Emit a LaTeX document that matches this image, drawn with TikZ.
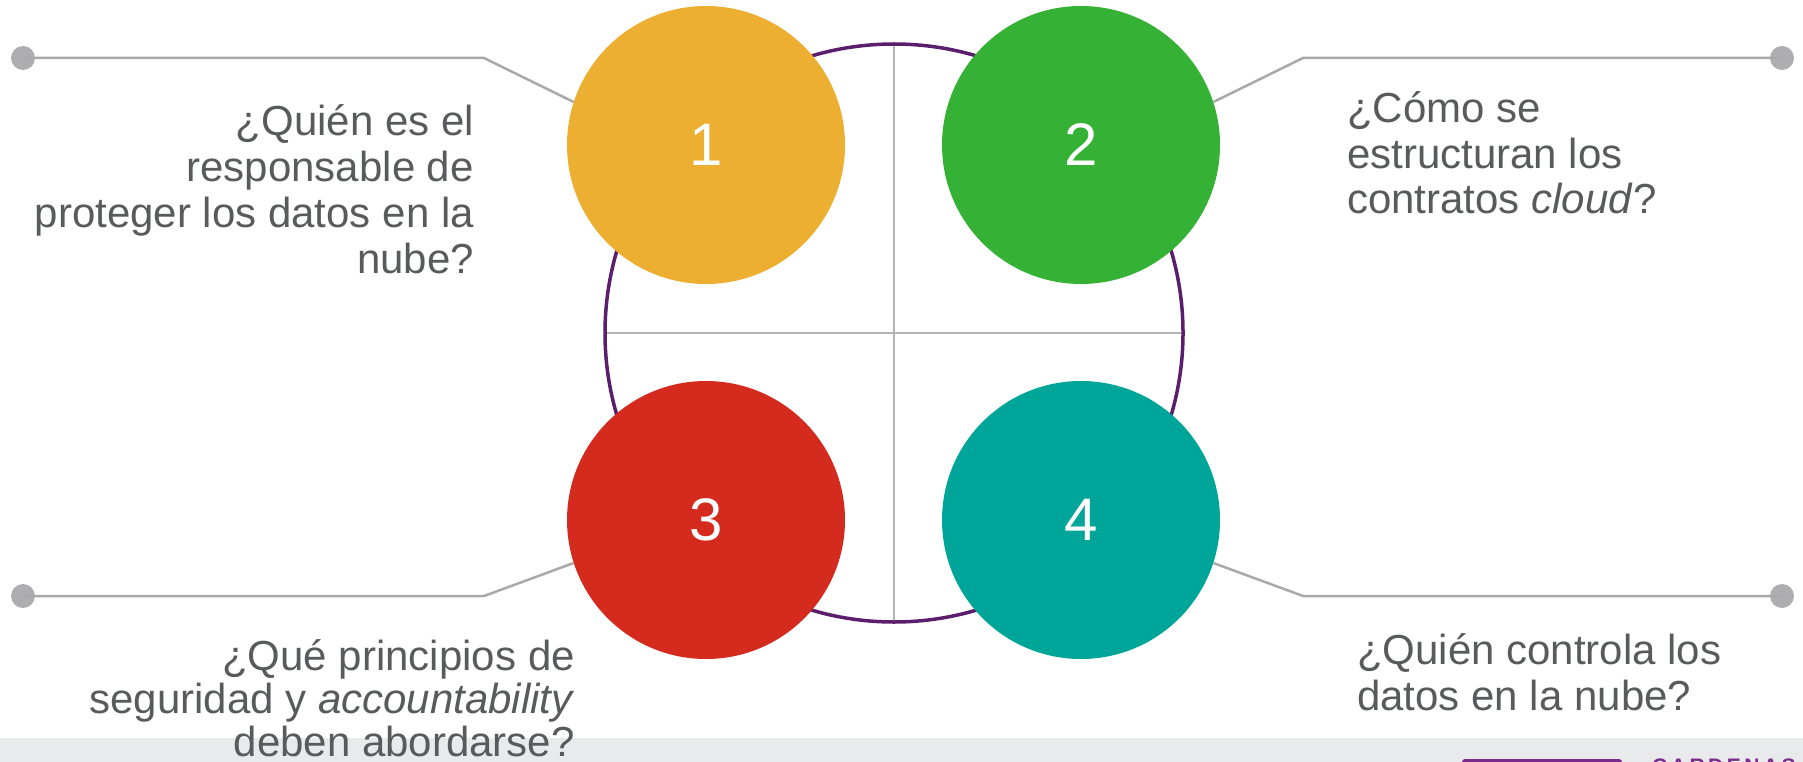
\documentclass[tikz,border=0pt]{standalone}
\usepackage{fontspec}
\setmainfont{Liberation Sans}
\definecolor{txtgray}{HTML}{595A5C}
\definecolor{leadgray}{HTML}{A9A9AA}
\definecolor{dotgray}{HTML}{AEAEB0}
\definecolor{crossgray}{HTML}{B4B4B4}
\definecolor{ringpurple}{HTML}{5A1E6C}
\definecolor{cOne}{HTML}{EDAF32}
\definecolor{cTwo}{HTML}{35B236}
\definecolor{cThree}{HTML}{D52B1E}
\definecolor{cFour}{HTML}{00A599}
\definecolor{bandgray}{HTML}{E9EAEC}
\definecolor{brandpurple}{HTML}{7A2B8C}

\begin{document}
\begin{tikzpicture}[x=1pt,y=-1pt,
		bubble/.style={circle,minimum size=278pt,inner sep=0pt,text=white,font=\fontsize{60}{64}\selectfont},
		pin/.style={circle,fill=dotgray,minimum size=24pt,inner sep=0pt},
		leader/.style={draw=leadgray,line width=2.5pt},
		question/.style={text=txtgray,inner sep=0pt,font=\fontsize{42}{46}\selectfont}]
			\useasboundingbox (0,0) rectangle (1803,762);
			\clip (0,0) rectangle (1803,762);
			% footer
			\fill[bandgray] (0,738) rectangle (1803,762);
			\fill[brandpurple, rounded corners=3pt] (1462,759) rectangle (1622,775);
			\node[anchor=north west, inner sep=0pt, text=brandpurple, font=\bfseries\fontsize{21}{21}\selectfont] (brand) at (1652,759) {C\,A\,R\,D\,E\,N\,A\,S};
			% ring with cross
			\node[circle, minimum size=578pt, inner sep=0pt] (ring) at (894,333) {};
			\draw[crossgray, line width=1.5pt] (ring.north) -- (ring.south);
			\draw[crossgray, line width=1.5pt] (ring.west) -- (ring.east);
			\draw[ringpurple, line width=3.5pt] (ring.center) circle[radius=289pt];
			% the four bubbles
			\foreach \n/\x/\y/\col in {1/706/145/cOne, 2/1081/145/cTwo, 3/706/520/cThree, 4/1081/520/cFour} {
				\node[bubble, fill=\col] (c\n) at (\x,\y) {\n};
			}
			% leaders
			\node[pin] (p1) at (23,58) {};
			\node[pin] (p2) at (1782,58) {};
			\node[pin] (p3) at (23,596) {};
			\node[pin] (p4) at (1782,596) {};
			\coordinate (k1) at (484,58);
			\coordinate (k2) at (1303,58);
			\coordinate (k3) at (484,596);
			\coordinate (k4) at (1303,596);
			\draw[leader] (p1.center) -- (k1) -- (c1.162);
			\draw[leader] (p2.center) -- (k2) -- (c2.18);
			\draw[leader] (p3.center) -- (k3) -- (c3.198);
			\draw[leader] (p4.center) -- (k4) -- (c4.342);
			% questions (base = last line)
			\node[question, anchor=base east, align=right] (q1) at (474,273) {¿Quién es el\\responsable de\\proteger los datos en la\\nube?};
			\node[question, anchor=base west, align=left] (q2) at (1347,214) {¿Cómo se\\estructuran los\\contratos \textit{cloud}?};
			\node[question, anchor=base east, align=right, font=\fontsize{42}{43}\selectfont] (q3) at (575,756) {¿Qué principios de\\seguridad y \textit{accountability}\\deben abordarse?};
			\node[question, anchor=base west, align=left] (q4) at (1357,710) {¿Quién controla los\\datos en la nube?};
		\end{tikzpicture}
\end{document}
